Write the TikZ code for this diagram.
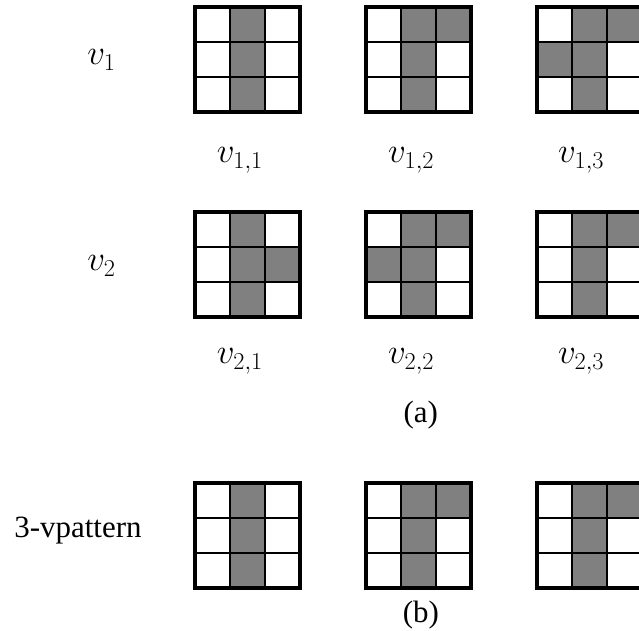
\documentclass[tikz,border=0pt]{standalone}
\usepackage{fontspec}
\setmainfont{Liberation Serif}
\begin{document}
\begin{tikzpicture}[every node/.style={font=\fontsize{22}{26}\selectfont, inner sep=0pt},
    mathlbl/.style={anchor=base, font=\fontsize{25.5}{30}\selectfont}]
  \clip (0,0) rectangle (15.975,15.775);
  % Grids: left, top, shaded cells (column/row)
  \foreach \gx/\gy/\cells in {
      4.875/15.6/{1/0,1/1,1/2},
      9.15/15.6/{1/0,2/0,1/1,1/2},
      13.425/15.6/{1/0,2/0,0/1,1/1,1/2},
      4.875/10.475/{1/0,1/1,2/1,1/2},
      9.15/10.475/{1/0,2/0,0/1,1/1,1/2},
      13.425/10.475/{1/0,2/0,1/1,1/2},
      4.875/3.7/{1/0,1/1,1/2},
      9.15/3.7/{1/0,2/0,1/1,1/2},
      13.425/3.7/{1/0,2/0,1/1,1/2}} {
    \foreach \c/\r in \cells {
      \fill[black!50] (\gx+\c*0.875,\gy-\r*0.875) rectangle ++(0.875,-0.875);
    }
    \foreach \i in {1,2} {
      \draw[line width=1.2pt] (\gx+\i*0.875,\gy) -- ++(0,-2.625);
      \draw[line width=1.2pt] (\gx,\gy-\i*0.875) -- ++(2.625,0);
    }
    \draw[line width=2.8pt] (\gx,\gy) rectangle ++(2.625,-2.625);
  }
  % Row labels
  \node[mathlbl] (v1) at (2.54,14.15) {$v_1$};
  \node[mathlbl] (v2) at (2.54,9.0) {$v_2$};
  \node[anchor=base] (vpat) at (1.95,2.325) {3-vpattern};
  % Grid labels
  \foreach \x [count=\j] in {6.0,10.28,14.53} {
    \node[mathlbl] (v1\j) at (\x,11.7) {$v_{1,\j}$};
    \node[mathlbl] (v2\j) at (\x,6.675) {$v_{2,\j}$};
  }
  % Captions
  \node[anchor=base] (capa) at (10.52,5.2) {(a)};
  \node[anchor=base] (capb) at (10.52,0.2) {(b)};
\end{tikzpicture}
\end{document}
